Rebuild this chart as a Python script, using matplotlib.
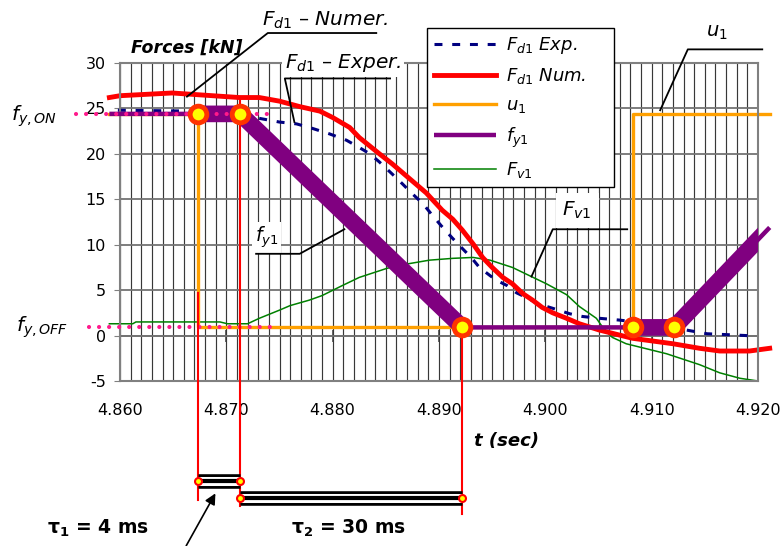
import numpy as np
import matplotlib
matplotlib.use("Agg")
import matplotlib.pyplot as plt
from matplotlib.ticker import MultipleLocator, FormatStrFormatter

plt.rcParams["font.family"] = ["DejaVu Sans"]
plt.rcParams["mathtext.fontset"] = "dejavusans"
plt.rcParams["axes.unicode_minus"] = False

# ---- data (t in s, forces in kN) ----
t_num = [4.8590, 4.8600, 4.8649, 4.8687, 4.8712, 4.8731, 4.8750, 4.8769, 4.8788, 4.8800,
         4.8816, 4.8825, 4.8844, 4.8856, 4.8872, 4.8888, 4.8903, 4.8913, 4.8922, 4.8932,
         4.8941, 4.8950, 4.8960, 4.8969, 4.8979, 4.8988, 4.8997, 4.9007, 4.9020, 4.9032,
         4.9051, 4.9082, 4.9120, 4.9145, 4.9164, 4.9192, 4.9211]
fd1_num = [26.2, 26.4, 26.7, 26.4, 26.2, 26.2, 25.8, 25.2, 24.7, 24.0,
           22.9, 21.8, 20.0, 18.9, 17.3, 15.7, 13.8, 12.8, 11.6, 10.1,
           8.6, 7.5, 6.4, 5.7, 4.6, 3.9, 3.1, 2.5, 1.9, 1.3,
           0.6, -0.3, -0.9, -1.4, -1.7, -1.7, -1.4]

t_exp = [4.8598, 4.8672, 4.8722, 4.8750, 4.8766, 4.8781, 4.8797, 4.8813, 4.8825, 4.8835,
         4.8844, 4.8854, 4.8863, 4.8875, 4.8885, 4.8894, 4.8902, 4.8912, 4.8921, 4.8931,
         4.8938, 4.8948, 4.8954, 4.8964, 4.8973, 4.8982, 4.8993, 4.9007, 4.9023, 4.9035,
         4.9051, 4.9070, 4.9098, 4.9133, 4.9152, 4.9171, 4.9189, 4.9200]
fd1_exp = [24.8, 24.7, 24.1, 23.5, 23.3, 22.8, 22.2, 21.5, 20.7, 20.0,
           19.1, 18.0, 17.0, 15.6, 14.5, 13.2, 12.1, 10.8, 9.7, 8.5,
           7.5, 6.6, 6.1, 5.5, 4.7, 4.2, 3.5, 3.0, 2.4, 2.1,
           1.9, 1.7, 1.3, 0.6, 0.2, 0.1, 0.0, -0.1]

t_fv = [4.8590, 4.8612, 4.8615, 4.8694, 4.8701, 4.8720, 4.8731, 4.8750, 4.8760, 4.8778,
        4.8790, 4.8809, 4.8825, 4.8851, 4.8866, 4.8891, 4.8913, 4.8932, 4.8948, 4.8969,
        4.8985, 4.9001, 4.9020, 4.9032, 4.9048, 4.9054, 4.9063, 4.9076, 4.9114, 4.9145,
        4.9164, 4.9183, 4.9200]
fv1 = [1.3, 1.3, 1.5, 1.5, 1.3, 1.3, 1.9, 2.8, 3.3, 3.9,
       4.4, 5.5, 6.4, 7.4, 7.8, 8.3, 8.5, 8.6, 8.3, 7.5,
       6.6, 5.7, 4.5, 3.2, 1.9, 0.9, -0.2, -0.9, -2.0, -3.2,
       -4.1, -4.7, -5.0]

t_fy = [4.8590, 4.8673, 4.8713, 4.8922, 4.9082, 4.9121, 4.9211]
fy1 = [24.4, 24.4, 24.4, 0.9, 0.9, 0.9, 11.9]

t_u = [4.8590, 4.8673, 4.8673, 4.9082, 4.9082, 4.9211]
u1 = [24.4, 24.4, 0.9, 0.9, 24.4, 24.4]

fy_on = 24.4
fy_off = 0.9

t_events = [4.8673, 4.8713, 4.8922, 4.9082, 4.9121]
fy_events = [24.4, 24.4, 0.9, 0.9, 0.9]

y_ticks = [-5, 0, 5, 10, 15, 20, 25, 30]

# ---- figure ----
W, H = 784, 546
fig = plt.figure(figsize=(W / 100, H / 100), dpi=100)
ax = fig.add_axes([120 / W, 1 - 381 / H, 638 / W, 318 / H])
ax.set_xlim(4.86, 4.92)
ax.set_ylim(-5, 30)

ax.xaxis.set_major_locator(MultipleLocator(0.01))
ax.xaxis.set_minor_locator(MultipleLocator(0.001))
ax.xaxis.set_major_formatter(FormatStrFormatter("%.3f"))
ax.set_yticks(y_ticks)
ax.grid(True, which="both", axis="x", color="0.22", linewidth=0.85)
ax.grid(True, which="major", axis="y", color="0.45", linewidth=1.3)
ax.set_axisbelow(True)
for s in ax.spines.values():
    s.set_color("0.5")
    s.set_linewidth(1.5)
ax.tick_params(axis="x", which="both", length=0, pad=16, labelsize=11.5)
ax.tick_params(axis="y", direction="out", length=4, color="0.5", pad=6, labelsize=11.5)

# x axis line at zero with crossing ticks
sec = ax.secondary_xaxis(5 / 35)
sec.xaxis.set_major_locator(MultipleLocator(0.01))
sec.tick_params(direction="inout", length=9, color="0.3", width=1.2, labelbottom=False)
sec.spines["bottom"].set_color("0.35")
sec.spines["bottom"].set_linewidth(1.2)

# curves
l_fv, = ax.plot(t_fv, fv1, color="#008000", lw=1.1, clip_on=False, zorder=2.1)
l_u, = ax.plot(t_u, u1, color="#ffa000", lw=2.4, clip_on=False, zorder=2.2)
l_exp, = ax.plot(t_exp, fd1_exp, color="#000080", lw=2.2, dashes=(2.6, 3.2), clip_on=False, zorder=2.3)
l_num, = ax.plot(t_num, fd1_num, color="#ff0000", lw=3.5, clip_on=False, zorder=2.4)
l_fy, = ax.plot(t_fy, fy1, color="#800080", lw=3.2, clip_on=False, zorder=2.6,
                solid_capstyle="butt")
# thick parts of f_y1 during the transitions
ax.plot(t_fy[1:4], fy1[1:4], color="#800080", lw=12, solid_capstyle="butt",
        solid_joinstyle="miter", zorder=2.7)
ax.plot(t_fy[4:], fy1[4:], color="#800080", lw=12, solid_capstyle="butt",
        solid_joinstyle="miter", zorder=2.7)

# threshold dotted lines
for lvl, x0 in [(fy_on, 4.8559), (fy_off, 4.8571)]:
    ax.plot([x0, 4.8744], [lvl, lvl], color="#ff1a8c", lw=3, dashes=(0.01, 2.4),
            dash_capstyle="round", clip_on=False, zorder=3.5)

# red event lines going down to the time bars
red_top = [4.7, 25.9, 0.9]
red_bottom = [-18.1, -18.8, -19.6]
for t, y0, y1 in zip(t_events[:3], red_top, red_bottom):
    ax.plot([t, t], [y0, y1], color="#ff0000", lw=1.5, clip_on=False, zorder=3.6)

ax.plot(t_events, fy_events, "o", ms=12, mfc="#ffff00", mec="#ff3300", mew=3.5,
        clip_on=False, zorder=4)

# time bars tau1 / tau2
for (ta, tb), yb in [((t_events[0], t_events[1]), -16.0), ((t_events[1], t_events[2]), -17.9)]:
    ax.plot([ta, tb], [yb, yb], color="k", lw=10.5, solid_capstyle="butt", clip_on=False, zorder=3.7)
    ax.plot([ta, tb], [yb, yb], color="w", lw=6.5, solid_capstyle="butt", clip_on=False, zorder=3.8)
    ax.plot([ta, tb], [yb, yb], color="k", lw=3, solid_capstyle="butt", clip_on=False, zorder=3.9)
    ax.plot([ta, tb], [yb, yb], "o", ms=5, mfc="#ffff00", mec="#ff0000", mew=1.5,
            clip_on=False, zorder=4)

ax.annotate("", xy=(4.8691, -17.1), xytext=(4.8661, -23.4), annotation_clip=False,
            arrowprops=dict(arrowstyle="-|>", color="k", lw=1.2, mutation_scale=16))

# leader lines and labels
leaders = [
    ([4.8841, 4.8739, 4.8663], [33.3, 33.3, 26.3]),
    ([4.8854, 4.8755, 4.8764], [28.3, 28.3, 23.5]),
    ([4.9204, 4.9134, 4.9108], [31.5, 31.5, 24.8]),
    ([4.9077, 4.9007, 4.8987], [11.7, 11.7, 6.5]),
    ([4.8728, 4.8769, 4.8811], [9.0, 9.0, 11.7]),
]
for xs, ys in leaders:
    ax.plot(xs, ys, color="k", lw=1.3, clip_on=False, zorder=6.5)

wbox = dict(facecolor="white", edgecolor="none", pad=2)
ax.text(4.8793, 34.7, r"$F_{\mathit{d1}}$ – Numer.", fontsize=14.5, style="italic",
        ha="center", va="center")
ax.text(4.8810, 30.0, r"$F_{\mathit{d1}}$ – Exper.", fontsize=14.5, style="italic",
        ha="center", va="center", bbox=wbox, zorder=6)
ax.text(4.9161, 33.4, r"$u_{\mathit{1}}$", fontsize=14, style="italic", ha="center", va="center")
ax.text(4.9030, 13.8, r"$F_{\mathit{v1}}$", fontsize=14.5, style="italic", ha="center",
        va="center", bbox=dict(facecolor="white", edgecolor="none", pad=5), zorder=6)
ax.text(4.8738, 10.8, r"$f_{\mathit{y1}}$", fontsize=13.5, style="italic", ha="center",
        va="center", bbox=wbox, zorder=6)

fig.text(187 / W, 1 - 48 / H, "Forces [kN]", fontsize=12.5, fontweight="bold",
         style="italic", ha="center", va="center")
fig.text(34 / W, 1 - 116 / H, r"$f_{\mathit{y,ON}}$", fontsize=14.5, ha="center", va="center")
fig.text(42 / W, 1 - 327 / H, r"$f_{\mathit{y,OFF}}$", fontsize=14.5, ha="center", va="center")
fig.text(507 / W, 1 - 441 / H, "t (sec)", fontsize=13, fontweight="bold", style="italic",
         ha="center", va="center")
fig.text(98 / W, 1 - 528 / H, r"τ$_{\mathbf{1}}$ = 4 ms", fontsize=13.5, fontweight="bold",
         ha="center", va="center")
fig.text(349 / W, 1 - 528 / H, r"τ$_{\mathbf{2}}$ = 30 ms", fontsize=13.5, fontweight="bold",
         ha="center", va="center")

leg = ax.legend([l_exp, l_num, l_u, l_fy, l_fv],
                [r"$F_{\mathit{d1}}$ Exp.", r"$F_{\mathit{d1}}$ Num.", r"$u_{\mathit{1}}$",
                 r"$f_{\mathit{y1}}$", r"$F_{\mathit{v1}}$"],
                loc="upper left", bbox_to_anchor=(427 / W, 1 - 185 / H, 187 / W, 157 / H),
                bbox_transform=fig.transFigure, mode="expand", borderaxespad=0,
                prop={"style": "italic", "size": 13}, handlelength=3.4, handletextpad=0.6,
                labelspacing=0.56, fancybox=False, framealpha=1, edgecolor="k")
leg.get_frame().set_linewidth(1.0)
leg.set_zorder(7)

fig.savefig("out.png", dpi=100)
